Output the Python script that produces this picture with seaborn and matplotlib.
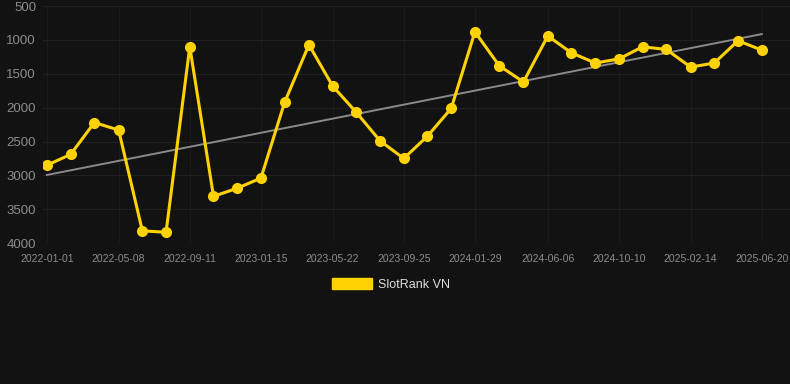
import numpy as np
import pandas as pd
import seaborn as sns
import matplotlib.pyplot as plt
import matplotlib.dates as mdates
from matplotlib.patches import Patch

# datas (aprox.) e posição no ranking
datas = ['2022-01-01', '2022-02-12', '2022-03-26', '2022-05-08', '2022-06-19',
         '2022-07-31', '2022-09-11', '2022-10-23', '2022-12-04', '2023-01-15',
         '2023-02-26', '2023-04-10', '2023-05-22', '2023-07-03', '2023-08-14',
         '2023-09-25', '2023-11-06', '2023-12-18', '2024-01-29', '2024-03-12',
         '2024-04-24', '2024-06-06', '2024-07-18', '2024-08-29', '2024-10-10',
         '2024-11-21', '2025-01-02', '2025-02-14', '2025-03-28', '2025-05-09',
         '2025-06-20']
ranking = [2850, 2690, 2220, 2330, 3820, 3840, 1100, 3310, 3190, 3040,
           1920, 1070, 1680, 2070, 2490, 2750, 2420, 2010, 880, 1380,
           1620, 940, 1190, 1340, 1280, 1100, 1140, 1400, 1340, 1010,
           1150]
rotulos_x = ['2022-01-01', '2022-05-08', '2022-09-11', '2023-01-15', '2023-05-22',
             '2023-09-25', '2024-01-29', '2024-06-06', '2024-10-10', '2025-02-14',
             '2025-06-20']
ticks_y = [500, 1000, 1500, 2000, 2500, 3000, 3500, 4000]
serie = 'SlotRank VN'

fundo = '#121212'
amarelo = '#FFD200'

plt.rcParams['font.family'] = ['Liberation Sans', 'DejaVu Sans']

dados = pd.DataFrame({'data': pd.to_datetime(datas), 'rank': ranking})

# linha de tendência (regressão linear)
xnum = mdates.date2num(dados['data'])
coef = np.polyfit(xnum, dados['rank'], 1)
dados['tendencia'] = np.polyval(coef, xnum)

fig = plt.figure(figsize=(7.9, 3.84), dpi=100, facecolor=fundo)
ax = fig.add_axes([0.0544, 0.367, 0.9456, 0.617])
ax.set_facecolor(fundo)

sns.lineplot(x='data', y='tendencia', data=dados, ax=ax, color='#8a8a8a',
             linewidth=1.4, zorder=2)
sns.lineplot(x='data', y='rank', data=dados, ax=ax, color=amarelo,
             linewidth=2.2, marker='o', markersize=8, markeredgewidth=0,
             zorder=3)

ax.set_ylim(4000, 500)
ax.set_yticks(ticks_y)
xt = pd.to_datetime(rotulos_x)
ax.set_xticks(xt)
ax.set_xticklabels(rotulos_x)
ax.set_xlim(mdates.date2num(xt[0]) - 7, mdates.date2num(xt[-1]) + 50)

ax.grid(True, axis='y', color='#202020', linewidth=0.8)
ax.grid(True, axis='x', color='#1a1a1a', linewidth=0.8)
ax.set_axisbelow(True)
for lado in ax.spines.values():
    lado.set_visible(False)
ax.tick_params(axis='y', length=0, pad=5, labelsize=9.5, labelcolor='#8c8c8c')
ax.tick_params(axis='x', length=0, pad=8, labelsize=7.5, labelcolor='#8c8c8c')
ax.set_xlabel('')
ax.set_ylabel('')

fig.legend(handles=[Patch(facecolor=amarelo, edgecolor=amarelo, label=serie)],
           loc='center', bbox_to_anchor=(0.495, 0.26), frameon=False,
           fontsize=9, labelcolor='#dddddd', handlelength=3.2,
           handleheight=1.0, handletextpad=0.5)

plt.savefig('out.png', dpi=100, facecolor=fundo)
